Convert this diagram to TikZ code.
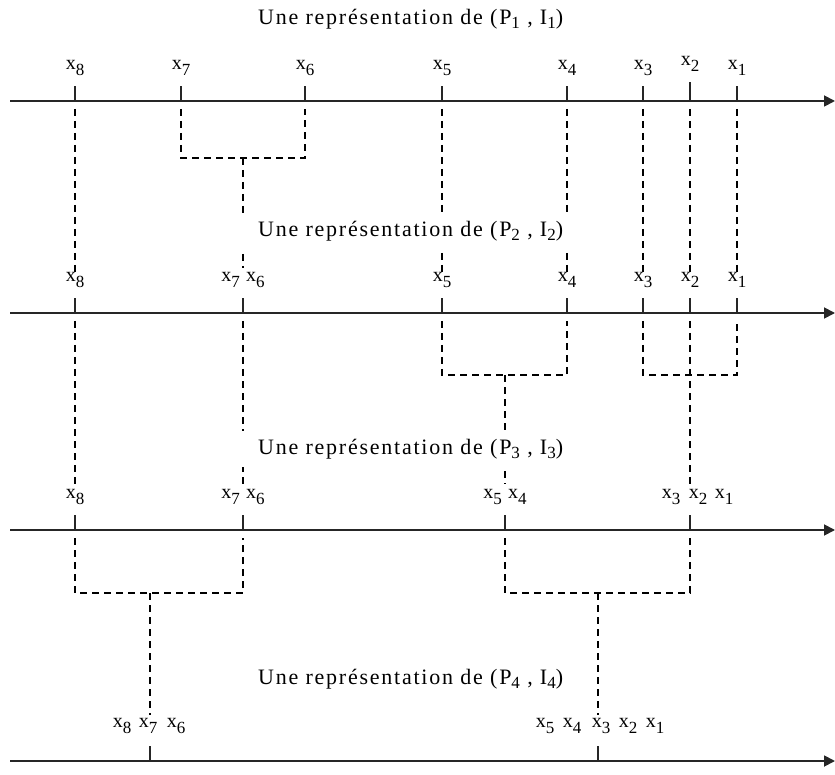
\documentclass[tikz,border=0pt]{standalone}
\usepackage{fontspec}
\usepackage{graphicx}
\setmainfont{Liberation Serif}
\newfontfamily\ttlfont[LetterSpace=8]{Liberation Serif}
\usetikzlibrary{arrows.meta}
\pgfdeclarelayer{bg}
\pgfsetlayers{bg,main}
\newcommand\sbs[1]{\raisebox{-6pt}{\fontsize{17}{17}\selectfont #1}}
\newcommand\tsbs[1]{\raisebox{-4pt}{\fontsize{17}{17}\selectfont #1}}
\newcommand\xl[1]{x\sbs{#1}}
\newcommand\ttltext[1]{Une représentation de (P\tsbs{#1} , I\tsbs{#1})}
\begin{document}
\begin{tikzpicture}[x=1pt,y=-1pt,
  axisline/.style={line width=1.8pt, draw=black!85, -{Triangle[length=11pt,width=11pt]}},
  tck/.style={line width=1.4pt, draw=black!85},
  dsh/.style={line width=1.5pt, dash pattern=on 7pt off 5pt},
  lbl/.style={font=\fontsize{20}{20}\selectfont, inner sep=1pt, fill=white, anchor=base},
  ttl/.style={font=\ttlfont\fontsize{22}{22}\selectfont, fill=white, inner xsep=20pt, inner ysep=8pt, anchor=base west}]
\useasboundingbox (0,0) rectangle (835,775);

% ---------- coordinates ----------
\coordinate (ax1s) at (10,101); \coordinate (ax1e) at (835,101);
\coordinate (ax2s) at (10,313); \coordinate (ax2e) at (835,313);
\coordinate (ax3s) at (10,530); \coordinate (ax3e) at (835,530);
\coordinate (ax4s) at (10,761); \coordinate (ax4e) at (835,761);
\foreach \n/\xx in {8/75,7/181,6/305,5/442,4/567,3/643,2/690,1/737}{\coordinate (t1-\n) at (\xx,101);}
\foreach \n/\xx in {8/75,76/243,5/442,4/567,3/643,2/690,1/737}{\coordinate (t2-\n) at (\xx,313);}
\foreach \n/\xx in {8/75,76/243,54/505,321/690}{\coordinate (t3-\n) at (\xx,530);}
\foreach \n/\xx in {876/150,54321/598}{\coordinate (t4-\n) at (\xx,761);}
\foreach \n/\xx in {8/75,7/181,6/305,5/442,4/567,3/643,2/690,1/737}{\coordinate (s1-\n) at (\xx,109);}
\foreach \n/\xx in {8/75,76/243,5/442,4/567,3/643,2/690,1/737}{\coordinate (s2-\n) at (\xx,321);}
\foreach \n/\xx in {8/75,76/243,54/505,321/690}{\coordinate (s3-\n) at (\xx,538);}
\coordinate (b1-76) at (243,158);
\coordinate (b2-54) at (505,375);
\coordinate (b2-321) at (690,375);
\coordinate (b3-876) at (150,593);
\coordinate (b3-54321) at (598,593);
\coordinate (e2-76) at (243,268);
\coordinate (e3-76) at (243,484);
\coordinate (e3-54) at (505,484);
\coordinate (e3-321) at (690,484);
\coordinate (e4-876) at (150,715);
\coordinate (e4-54321) at (598,715);

% ---------- titles ----------
\node[ttl] (T1) at (238,25) {\ttltext{1}};
\node[ttl] (T2) at (238,237) {\ttltext{2}};
\node[ttl] (T3) at (238,454) {\ttltext{3}};
\node[ttl] (T4) at (238,684) {\ttltext{4}};

% ---------- labels ----------
\node[lbl] (l1-8) at (75,70) {\xl{8}};
\node[lbl] (l1-7) at (181,70) {\xl{7}};
\node[lbl] (l1-6) at (305,70) {\xl{6}};
\node[lbl] (l1-5) at (442,70) {\xl{5}};
\node[lbl] (l1-4) at (567,70) {\xl{4}};
\node[lbl] (l1-3) at (643,70) {\xl{3}};
\node[lbl] (l1-2) at (690,66) {\xl{2}};
\node[lbl] (l1-1) at (737,70) {\xl{1}};

\node[lbl] (l2-8) at (75,282) {\xl{8}};
\node[lbl,anchor=base east] (l2-7) at (241,282) {\xl{7}};
\node[lbl,anchor=base west] (l2-6) at (245,282) {\xl{6}};
\node[lbl] (l2-5) at (442,282) {\xl{5}};
\node[lbl] (l2-4) at (567,282) {\xl{4}};
\node[lbl] (l2-3) at (643,282) {\xl{3}};
\node[lbl] (l2-2) at (690,282) {\xl{2}};
\node[lbl] (l2-1) at (737,282) {\xl{1}};

\node[lbl] (l3-8) at (75,498) {\xl{8}};
\node[lbl,anchor=base east] (l3-7) at (241,498) {\xl{7}};
\node[lbl,anchor=base west] (l3-6) at (245,498) {\xl{6}};
\node[lbl,anchor=base east] (l3-5) at (503,498) {\xl{5}};
\node[lbl,anchor=base west] (l3-4) at (507,498) {\xl{4}};
\node[lbl] (l3-3) at (671,498) {\xl{3}};
\node[lbl] (l3-2) at (698,498) {\xl{2}};
\node[lbl] (l3-1) at (724,498) {\xl{1}};

\node[lbl] (l4-8) at (122,727) {\xl{8}};
\node[lbl] (l4-7) at (148,727) {\xl{7}};
\node[lbl] (l4-6) at (176,727) {\xl{6}};
\node[lbl] (l4-5) at (545,727) {\xl{5}};
\node[lbl] (l4-4) at (572,727) {\xl{4}};
\node[lbl] (l4-3) at (601,727) {\xl{3}};
\node[lbl] (l4-2) at (628,727) {\xl{2}};
\node[lbl] (l4-1) at (655,727) {\xl{1}};

% ---------- dashed connectors (behind labels) ----------
\begin{pgfonlayer}{bg}
% stage 1 -> 2
\draw[dsh] (s1-8) -- (l2-8.north);
\draw[dsh] (s1-7) |- (b1-76) -| (s1-6);
\draw[dsh] (b1-76) -- (e2-76);
\draw[dsh] (s1-5) -- (l2-5.north);
\draw[dsh] (s1-4) -- (l2-4.north);
\draw[dsh] (s1-3) -- (l2-3.north);
\draw[dsh] (s1-2) -- (l2-2.north);
\draw[dsh] (s1-1) -- (l2-1.north);
% stage 2 -> 3
\draw[dsh] (s2-8) -- (l3-8.north);
\draw[dsh] (s2-76) -- (e3-76);
\draw[dsh] (s2-5) |- (b2-54) -| (s2-4);
\draw[dsh] (b2-54) -- (e3-54);
\draw[dsh] (s2-3) |- (b2-321) -| (s2-1);
\draw[dsh] (s2-2) -- (e3-321);
% stage 3 -> 4
\draw[dsh] (s3-8) |- (b3-876) -| (s3-76);
\draw[dsh] (b3-876) -- (e4-876);
\draw[dsh] (s3-54) |- (b3-54321) -| (s3-321);
\draw[dsh] (b3-54321) -- (e4-54321);
\end{pgfonlayer}

% ---------- axes and ticks ----------
\draw[axisline] (ax1s) -- (ax1e);
\draw[axisline] (ax2s) -- (ax2e);
\draw[axisline] (ax3s) -- (ax3e);
\draw[axisline] (ax4s) -- (ax4e);
\foreach \n in {8,7,6,5,4,3,1}{\draw[tck] (t1-\n) -- ++(0,-15);}
\draw[tck] (t1-2) -- ++(0,-19);
\foreach \n in {8,76,5,4,3,2,1}{\draw[tck] (t2-\n) -- ++(0,-15);}
\foreach \n in {8,76,54,321}{\draw[tck] (t3-\n) -- ++(0,-15);}
\foreach \n in {876,54321}{\draw[tck] (t4-\n) -- ++(0,-15);}
\end{tikzpicture}
\end{document}
